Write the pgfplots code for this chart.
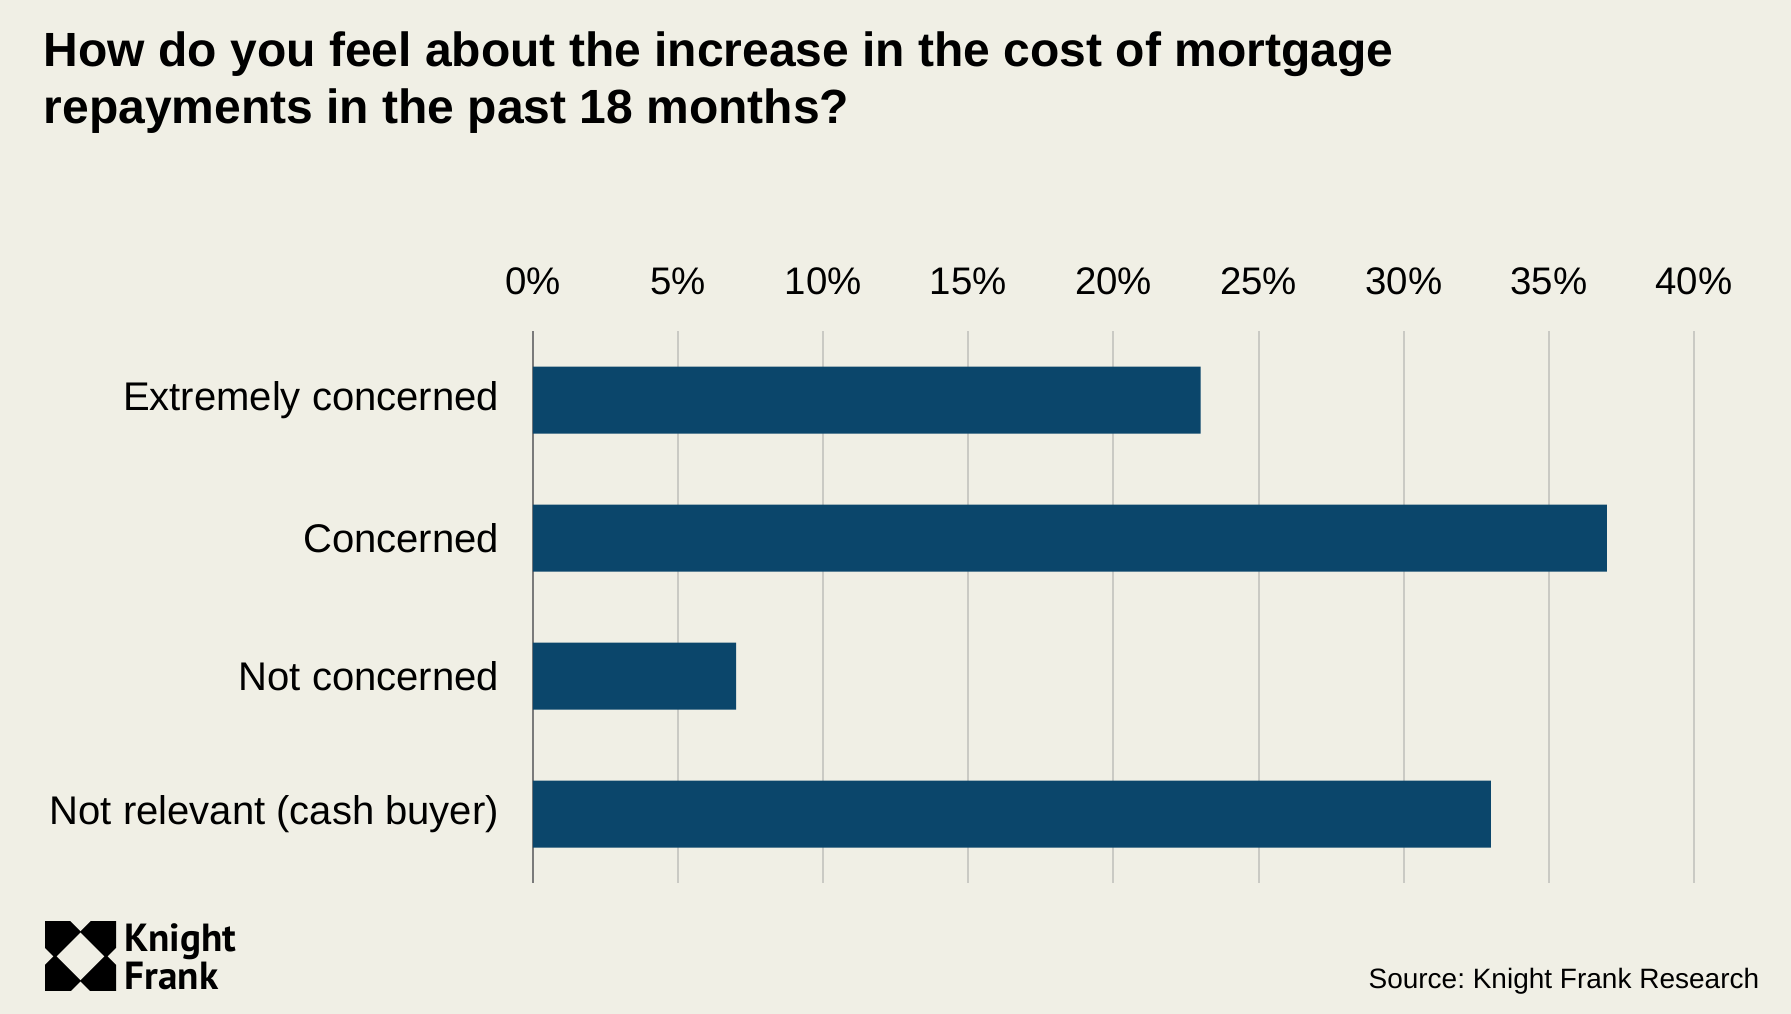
\documentclass[border=0pt]{standalone}
\usepackage{pgfplots}
\pgfplotsset{compat=1.18}
\usepackage{fontspec}
\setmainfont{Liberation Sans}
\newfontfamily\logofont{PT Sans}
\definecolor{bg}{HTML}{F0EFE5}
\definecolor{barblue}{HTML}{0B466B}
\definecolor{gridgray}{HTML}{CACAC4}
\definecolor{zerogray}{HTML}{7A7A7A}
\frenchspacing

\begin{document}
\begin{tikzpicture}
% page = 1791 x 1014 px, 1 px = 0.25pt
\fill[bg] (0pt,0pt) rectangle (447.75pt,-253.5pt);

\begin{axis}[
    at={(133.25pt,-220.75pt)}, anchor=south west,
    width=290.25pt, height=138pt, scale only axis,
    xbar, bar width=16.75pt,
    xmin=0, xmax=40, ymin=-0.5, ymax=3.5,
    y dir=reverse,
    ytick={0,1,2,3},
    yticklabels={Extremely concerned,Concerned,Not concerned,Not relevant (cash buyer)},
    xtick={0,5,...,40},
    xticklabel={\pgfmathprintnumber{\tick}\%},
    xticklabel pos=upper,
    /pgf/number format/assume math mode=true,
    axis line style={draw=none},
    major tick length=0pt,
    xmajorgrids,
    grid style={color=gridgray, line width=0.5pt},
    extra x ticks={0}, extra x tick labels={},
    extra x tick style={grid style={color=zerogray, line width=0.6pt}},
    xticklabel style={font=\fontsize{9.6}{11}\selectfont, yshift=5.5pt},
    yticklabel style={font=\fontsize{10}{12}\selectfont, xshift=-5pt},
]
\addplot[fill=barblue, draw=none] coordinates {(23,0) (37,1) (7,2) (33,3)};
\end{axis}

\begin{scope}[x=0.25pt, y=-0.25pt]
  % title
  \node[anchor=base west, inner sep=0pt, font=\fontsize{12}{14}\selectfont\bfseries]
    at (43,67) {How do you feel about the increase in the cost of mortgage};
  \node[anchor=base west, inner sep=0pt, font=\fontsize{12}{14}\selectfont\bfseries]
    at (43,124) {repayments in the past 18 months?};
  % source
  \node[anchor=base east, inner sep=0pt, font=\fontsize{7}{8}\selectfont]
    at (1760,989) {Source: Knight Frank Research};
  % logo mark
  \begin{scope}
    \clip (45,922) rectangle (116,991);
    \foreach \cx/\cy in {55/932, 106/932, 55/981, 106/981}
      \fill[black] (\cx-26,\cy) -- (\cx,\cy-26) -- (\cx+26,\cy) -- (\cx,\cy+26) -- cycle;
  \end{scope}
  \node[anchor=base west, inner sep=0pt, font=\logofont\bfseries\fontsize{9.8}{10}\selectfont]
    at (124,952) {Knight};
  \node[anchor=base west, inner sep=0pt, font=\logofont\bfseries\fontsize{9.8}{10}\selectfont]
    at (124,990) {Frank};
\end{scope}
\end{tikzpicture}
\end{document}
